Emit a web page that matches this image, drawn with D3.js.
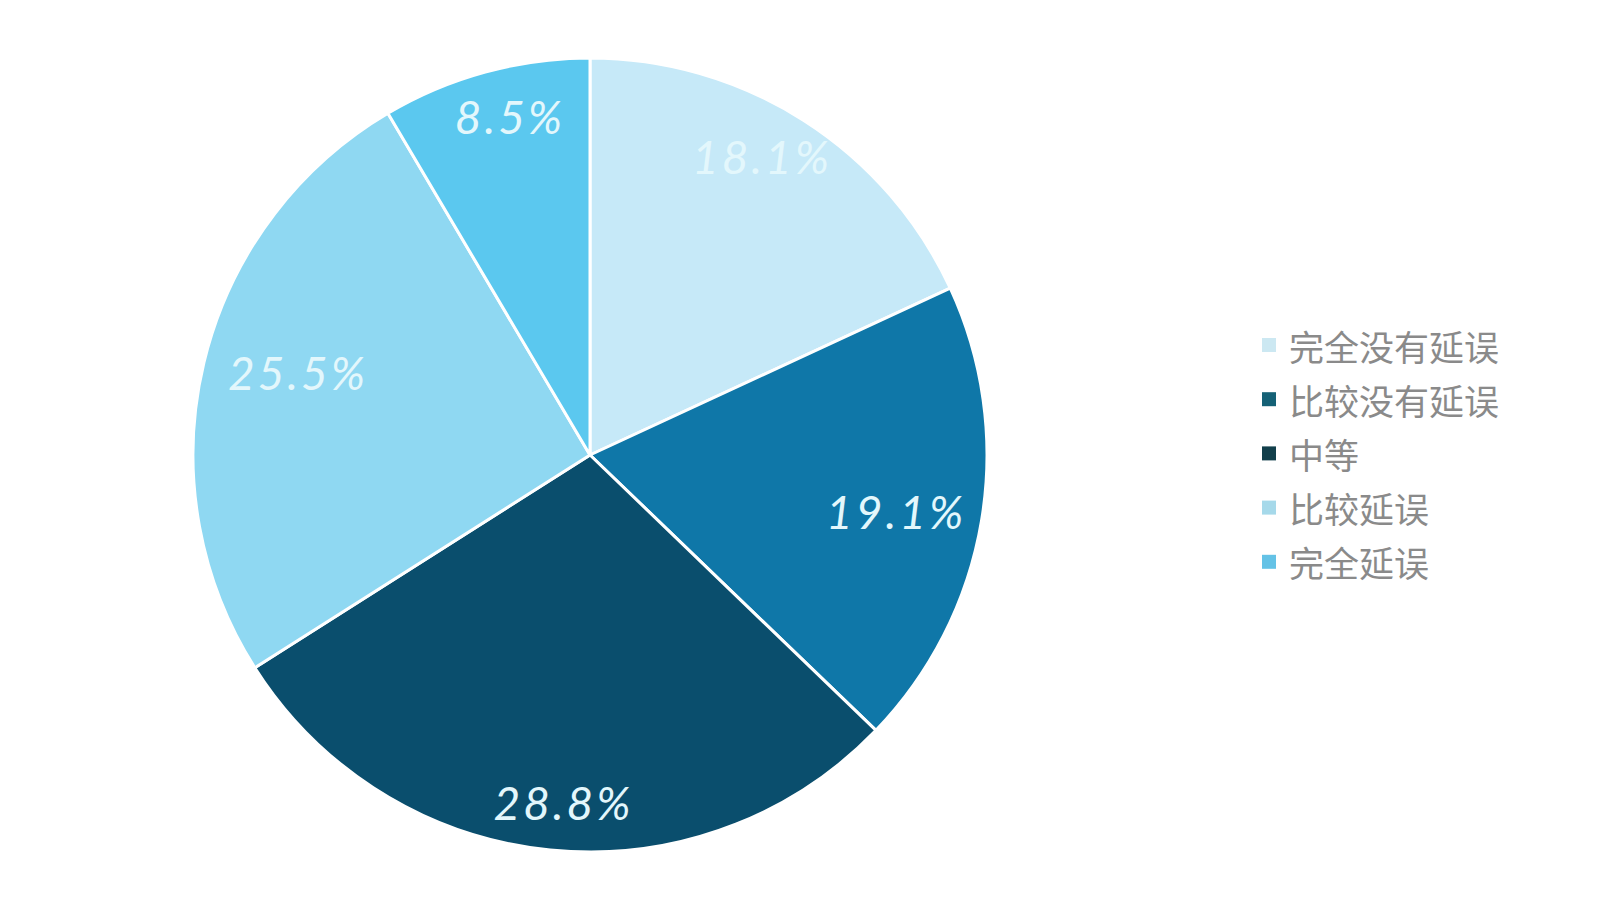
<!DOCTYPE html>
<html>
<head>
<meta charset="utf-8">
<script src="https://cdn.jsdelivr.net/npm/d3@7"></script>
<style>
  html, body { margin: 0; padding: 0; background: #ffffff; }
  svg { display: block; }
</style>
</head>
<body>
<svg id="chart" width="1611" height="898"></svg>
<script>
// Survey responses: how much delay was experienced
const categories = ["完全没有延误", "比较没有延误", "中等", "比较延误", "完全延误"];
const shares = [18.1, 19.1, 28.8, 25.5, 8.5];
const sliceColors = ["#c6e9f8", "#0f77a8", "#0a4e6d", "#8fd8f2", "#5bc8ef"];
const legendColors = ["#cce8f2", "#156176", "#123f4b", "#a6d9ea", "#64c2e6"];

// Label placement: radius as a fraction of the pie radius, and a small
// angular nudge (degrees) away from each slice's mid-angle
const labelRadiusFactor = [0.867, 0.784, 0.879, 0.764, 0.877];
const labelAngleNudge = [-2.6, 0.9, -1.4, 2.2, 2.0];

const svg = d3.select("#chart");
const cx = 590, cy = 455, radius = 397;

const pie = d3.pie().sort(null).value(d => d.value);
const arcs = pie(categories.map((c, i) => ({ name: c, value: shares[i], i })));

const arc = d3.arc().innerRadius(0).outerRadius(radius);
const labelPos = d => {
  const r = radius * labelRadiusFactor[d.data.i];
  const a = (d.startAngle + d.endAngle) / 2 + labelAngleNudge[d.data.i] * Math.PI / 180;
  return [r * Math.sin(a), -r * Math.cos(a)];
};

const g = svg.append("g").attr("transform", `translate(${cx},${cy})`);

g.selectAll("path.slice")
  .data(arcs)
  .join("path")
  .attr("class", "slice")
  .attr("d", arc)
  .attr("fill", d => sliceColors[d.data.i])
  .attr("stroke", "#ffffff")
  .attr("stroke-width", 3)
  .attr("stroke-linejoin", "round");

g.selectAll("text.pct")
  .data(arcs)
  .join("text")
  .attr("class", "pct")
  .attr("transform", d => `translate(${labelPos(d)})`)
  .attr("text-anchor", "middle")
  .attr("dominant-baseline", "central")
  .attr("font-family", "Lato, 'Open Sans', sans-serif")
  .attr("font-style", "italic")
  .attr("font-size", 46)
  .attr("letter-spacing", 3)
  .attr("fill", "#e3f7fc")
  .text(d => d.data.value.toFixed(1) + "%");

// Legend
const legend = svg.append("g").attr("transform", "translate(1262,345)");
const rowGap = 54.2;
const rows = legend.selectAll("g.row")
  .data(categories)
  .join("g")
  .attr("class", "row")
  .attr("transform", (d, i) => `translate(0,${i * rowGap})`);

rows.append("rect")
  .attr("x", 0)
  .attr("y", -7)
  .attr("width", 14)
  .attr("height", 14)
  .attr("fill", (d, i) => legendColors[i]);

rows.append("text")
  .attr("x", 27)
  .attr("y", 0)
  .attr("dominant-baseline", "central")
  .attr("font-family", "'Noto Sans CJK SC', sans-serif")
  .attr("font-size", 35)
  .attr("fill", "#8a8a8a")
  .text(d => d);
</script>
</body>
</html>
